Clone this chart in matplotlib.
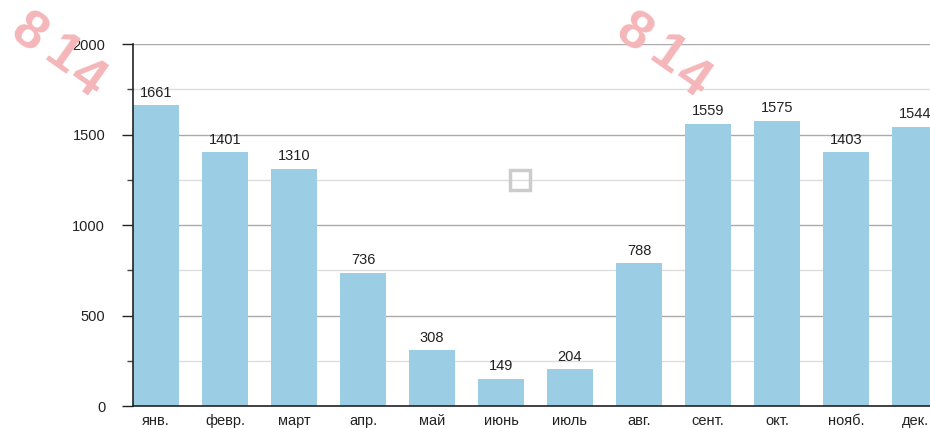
import matplotlib
matplotlib.use("Agg")
import matplotlib.pyplot as plt
from matplotlib.patches import Rectangle
from matplotlib.ticker import MultipleLocator

months = ["янв.", "февр.", "март", "апр.", "май", "июнь", "июль", "авг.", "сент.", "окт.", "нояб.", "дек."]
values = [1661, 1401, 1310, 736, 308, 149, 204, 788, 1559, 1575, 1403, 1544]
yticks = [0, 500, 1000, 1500, 2000]
watermark = "814"

plt.rcParams['font.family'] = ['Liberation Sans', 'DejaVu Sans']

W, H = 930, 428
fig = plt.figure(figsize=(W/100, H/100), dpi=100)
left, right, bottom, top = 133, 938, 406, 44
ax = fig.add_axes([left/W, 1 - bottom/H, (right-left)/W, (bottom-top)/H])

x = list(range(len(months)))
bw = 0.667
ax.bar(x, values, width=bw, color="#9BCDE5", zorder=2)
for xi, v in zip(x, values):
    ax.annotate(str(v), (xi, v), xytext=(0, 4), textcoords="offset points",
                ha="center", va="bottom", fontsize=10.5, color="#222222", zorder=3)

ax.set_xlim(-bw/2, len(months) - 1 + bw/2)
ax.set_ylim(0, 2000)
ax.set_yticks(yticks)
ax.set_yticklabels([str(t) for t in yticks])
ax.yaxis.set_minor_locator(MultipleLocator(250))
ax.set_xticks(x)
ax.set_xticklabels(months)
ax.tick_params(axis="x", length=0, pad=6, labelsize=10.5, colors="#222222")
ax.tick_params(axis="y", which="major", length=8, width=1, pad=12, labelsize=10.5, colors="#222222")
ax.tick_params(axis="y", which="minor", length=4, width=1, colors="#444444")
ax.grid(axis="y", which="major", color="#aaaaaa", linewidth=1, zorder=0)
ax.grid(axis="y", which="minor", color="#dddddd", linewidth=1, zorder=0)
ax.set_axisbelow(True)
for s in ["top", "right"]:
    ax.spines[s].set_visible(False)
ax.spines["left"].set_color("#222222")
ax.spines["bottom"].set_color("#222222")
ax.spines["left"].set_linewidth(1.2)
ax.spines["bottom"].set_linewidth(1.2)

# center square icon
fig.patches.append(Rectangle((510/W, 1 - 190/H), 20/W, 20/H, transform=fig.transFigure,
                             fill=False, edgecolor="#cccccc", linewidth=2.5, zorder=5))

# watermarks (each digit placed along a rotated line)
offsets = [(0, 0), (34, 22), (58, 44)]
for ox in [28, 633]:
    for ch, (dx, dy) in zip(watermark, offsets):
        fig.text((ox + dx)/W, 1 - (34 + dy)/H, ch, fontsize=39, fontweight="bold", color="#f4b6b9",
                 rotation=-35, ha="center", va="center", family="Liberation Sans", zorder=10)

fig.savefig("out.png", dpi=100)
